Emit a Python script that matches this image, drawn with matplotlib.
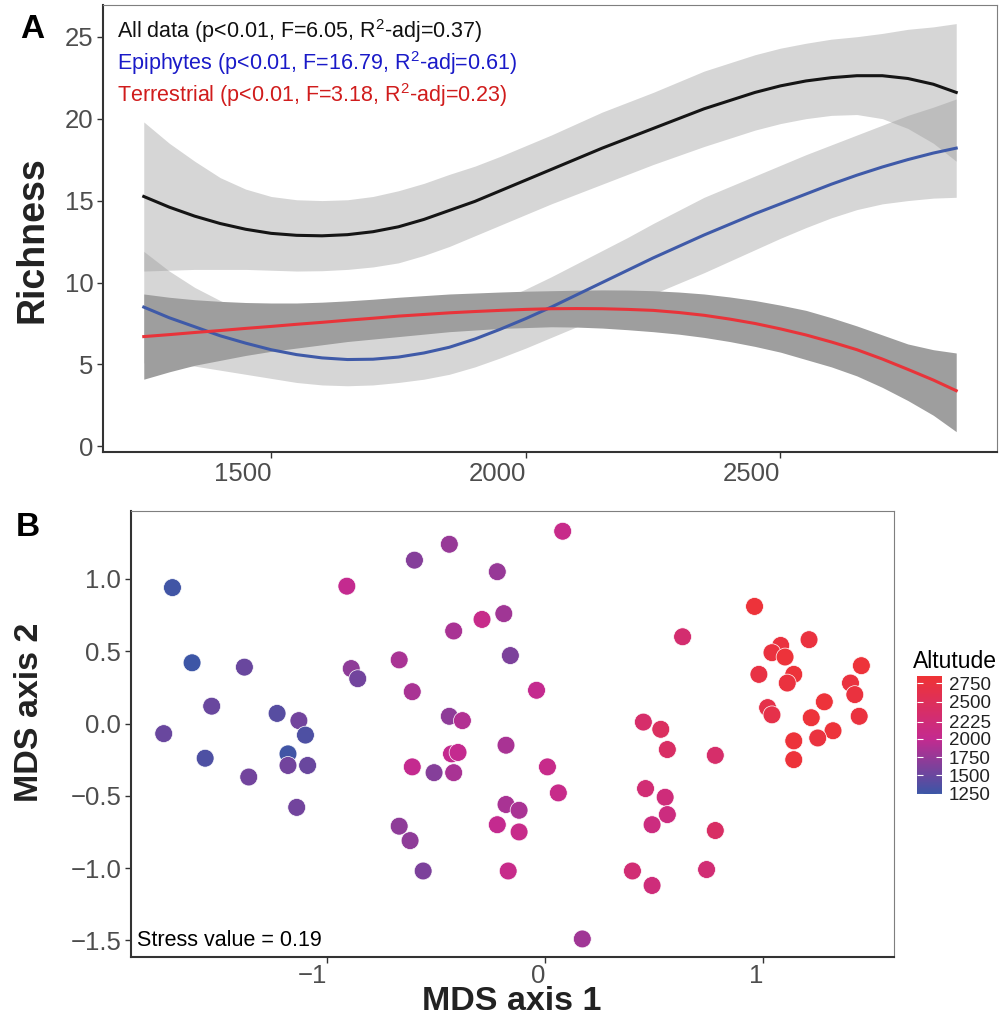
import numpy as np
import matplotlib
matplotlib.use("Agg")
import matplotlib.pyplot as plt
from matplotlib.colors import LinearSegmentedColormap, Normalize

plt.rcParams['font.family'] = ['Liberation Sans', 'DejaVu Sans']
plt.rcParams['mathtext.fontset'] = 'custom'
plt.rcParams['mathtext.rm'] = 'Liberation Sans'

# ---- Panel A: smoothed richness vs altitude
alt_grid = [1250, 1300, 1350, 1400, 1450, 1500, 1550, 1600, 1650, 1700,
            1750, 1800, 1850, 1900, 1950, 2000, 2050, 2100, 2150, 2200,
            2250, 2300, 2350, 2400, 2450, 2500, 2550, 2600, 2650, 2700,
            2750, 2800, 2845]

all_fit = [15.25, 14.6, 14.05, 13.6, 13.25, 13.0, 12.88, 12.85, 12.92, 13.1,
           13.4, 13.85, 14.4, 14.95, 15.6, 16.25, 16.9, 17.55, 18.2, 18.8,
           19.4, 20.0, 20.6, 21.1, 21.6, 22.0, 22.3, 22.5, 22.62, 22.62,
           22.45, 22.1, 21.6]
all_lo = [10.7, 10.75, 10.8, 10.8, 10.8, 10.75, 10.7, 10.72, 10.8, 10.95,
          11.2, 11.65, 12.2, 12.85, 13.5, 14.15, 14.8, 15.4, 16.0, 16.6,
          17.2, 17.75, 18.3, 18.8, 19.3, 19.7, 20.0, 20.2, 20.25, 20.0,
          19.4, 18.5, 17.4]
all_hi = [19.8, 18.5, 17.4, 16.4, 15.7, 15.25, 15.05, 15.0, 15.05, 15.25,
          15.6, 16.05, 16.6, 17.1, 17.7, 18.35, 19.0, 19.7, 20.4, 21.0,
          21.6, 22.25, 22.9, 23.4, 23.9, 24.3, 24.6, 24.85, 25.0, 25.2,
          25.45, 25.6, 25.8]

epi_fit = [8.5, 7.85, 7.3, 6.75, 6.3, 5.9, 5.6, 5.4, 5.3, 5.32,
           5.45, 5.7, 6.05, 6.55, 7.15, 7.8, 8.5, 9.25, 10.0, 10.75,
           11.5, 12.2, 12.9, 13.55, 14.2, 14.8, 15.4, 16.0, 16.55, 17.05,
           17.5, 17.9, 18.2]
epi_lo = [5.1, 5.05, 4.9, 4.65, 4.4, 4.15, 3.9, 3.75, 3.7, 3.75,
          3.9, 4.1, 4.4, 4.85, 5.4, 6.0, 6.65, 7.3, 8.0, 8.65,
          9.3, 9.95, 10.6, 11.3, 12.0, 12.7, 13.35, 13.95, 14.45, 14.8,
          15.0, 15.15, 15.2]
epi_hi = [11.9, 10.7, 9.7, 8.9, 8.2, 7.7, 7.3, 7.05, 6.9, 6.9,
          7.0, 7.3, 7.7, 8.25, 8.9, 9.6, 10.35, 11.15, 11.95, 12.75,
          13.6, 14.4, 15.2, 15.85, 16.5, 17.15, 17.8, 18.4, 19.0, 19.6,
          20.2, 20.7, 21.2]

ter_fit = [6.7, 6.82, 6.95, 7.07, 7.2, 7.32, 7.45, 7.57, 7.7, 7.82,
           7.95, 8.05, 8.15, 8.23, 8.3, 8.36, 8.4, 8.41, 8.4, 8.36,
           8.3, 8.17, 8.0, 7.77, 7.5, 7.17, 6.8, 6.37, 5.9, 5.33,
           4.7, 4.05, 3.4]
ter_lo = [4.1, 4.55, 4.95, 5.25, 5.55, 5.8, 6.0, 6.2, 6.4, 6.55,
          6.7, 6.85, 7.0, 7.1, 7.2, 7.25, 7.3, 7.28, 7.22, 7.12,
          7.0, 6.85, 6.65, 6.4, 6.1, 5.75, 5.3, 4.85, 4.3, 3.6,
          2.8, 1.9, 0.9]
ter_hi = [9.3, 9.1, 8.95, 8.85, 8.78, 8.75, 8.75, 8.8, 8.88, 8.98,
          9.1, 9.2, 9.3, 9.36, 9.42, 9.47, 9.5, 9.53, 9.55, 9.54,
          9.5, 9.42, 9.3, 9.12, 8.9, 8.62, 8.3, 7.85, 7.35, 6.8,
          6.25, 5.9, 5.7]

labels_a = ["All data (p<0.01, F=6.05, R$^{2}$-adj=0.37)",
            "Epiphytes (p<0.01, F=16.79, R$^{2}$-adj=0.61)",
            "Terrestrial (p<0.01, F=3.18, R$^{2}$-adj=0.23)"]
label_colors = ['#111111', '#1A1AC8', '#D01C1C']

# ---- Panel B: NMDS scores
mds1 = [-1.71, -1.62, -1.38, -1.53, -1.75, -1.56, -1.36, -1.23, -1.13, -1.10,
        -1.18, -1.18, -1.09, -1.14, -0.91, -0.89, -0.86, -0.60, -0.44, -0.22,
        -0.29, -0.19, -0.42, -0.16, -0.67, -0.61, -0.04, -0.44, -0.38, -0.18,
        -0.43, -0.40, -0.61, -0.51, -0.42, 0.01, 0.06, -0.67, -0.62, -0.56,
        -0.18, -0.12, -0.22, -0.12, -0.17, 0.17, 0.08, 0.45, 0.53, 0.56,
        0.46, 0.55, 0.56, 0.49, 0.40, 0.49, 0.63, 0.78, 0.78, 0.74,
        0.96, 1.08, 1.04, 1.10, 1.21, 1.45, 0.98, 1.14, 1.11, 1.40,
        1.42, 1.28, 1.02, 1.04, 1.22, 1.44, 1.32, 1.25, 1.14, 1.14]
mds2 = [0.94, 0.42, 0.39, 0.12, -0.07, -0.24, -0.37, 0.07, 0.02, -0.08,
        -0.21, -0.29, -0.29, -0.58, 0.95, 0.38, 0.31, 1.13, 1.24, 1.05,
        0.72, 0.76, 0.64, 0.47, 0.44, 0.22, 0.23, 0.05, 0.02, -0.15,
        -0.21, -0.20, -0.30, -0.34, -0.34, -0.30, -0.48, -0.71, -0.81, -1.02,
        -0.56, -0.60, -0.70, -0.75, -1.02, -1.49, 1.33, 0.01, -0.04, -0.18,
        -0.45, -0.51, -0.63, -0.70, -1.02, -1.12, 0.60, -0.22, -0.74, -1.01,
        0.81, 0.54, 0.49, 0.46, 0.58, 0.40, 0.34, 0.34, 0.28, 0.28,
        0.20, 0.15, 0.11, 0.06, 0.04, 0.05, -0.05, -0.10, -0.12, -0.25]
altitude = [1280, 1260, 1500, 1500, 1500, 1350, 1550, 1400, 1550, 1350,
            1280, 1550, 1500, 1550, 2000, 1700, 1550, 1650, 1750, 1750,
            2050, 1800, 1850, 1600, 1850, 1850, 2000, 1700, 1900, 1850,
            2000, 2000, 2000, 1650, 1850, 2050, 2050, 1700, 1700, 1600,
            1850, 1850, 2000, 2050, 2050, 1800, 2050, 2350, 2450, 2400,
            2250, 2200, 2150, 2150, 2250, 2200, 2300, 2350, 2400, 2250,
            2800, 2750, 2750, 2800, 2750, 2800, 2700, 2800, 2750, 2750,
            2750, 2800, 2650, 2650, 2800, 2750, 2800, 2750, 2800, 2800]
cbar_ticks = [1250, 1500, 1750, 2000, 2225, 2500, 2750]

grey_txt = '#4D4D4D'
dark = '#333333'

fig = plt.figure(figsize=(10.04, 10.23), dpi=100)


def style_axes(ax, xpad=3):
    for s in ['left', 'bottom']:
        ax.spines[s].set_color(dark)
        ax.spines[s].set_linewidth(1.5)
    for s in ['top', 'right']:
        ax.spines[s].set_color('#7F7F7F')
        ax.spines[s].set_linewidth(0.8)
    ax.tick_params(length=4, width=1, color=dark, labelcolor=grey_txt,
                   labelsize=18.5, pad=3)
    ax.tick_params(axis='x', pad=xpad)
    plt.setp(ax.get_xticklabels(), ha='right')


# Panel A
ax1 = fig.add_axes([0.1026, 0.5582, 0.8904, 0.4370])
ax1.fill_between(alt_grid, all_lo, all_hi, color='#999999', alpha=0.4, lw=0)
ax1.plot(alt_grid, all_fit, color='#151515', lw=2.2)
ax1.fill_between(alt_grid, epi_lo, epi_hi, color='#999999', alpha=0.4, lw=0)
ax1.plot(alt_grid, epi_fit, color='#3F5AA8', lw=2.2)
ax1.fill_between(alt_grid, ter_lo, ter_hi, color='#9E9E9E', lw=0)
ax1.plot(alt_grid, ter_fit, color='#E8343A', lw=2.2)
ax1.set_xlim(1170, 2925)
ax1.set_ylim(-0.34, 26.94)
ax1.set_xticks([1500, 2000, 2500])
ax1.set_yticks([0, 5, 10, 15, 20, 25])
style_axes(ax1)

for i, (lab, col) in enumerate(zip(labels_a, label_colors)):
    fig.text(117 / 1004, 1 - (31 + 32 * i) / 1023, lab, color=col,
             fontsize=15.5, va='center', ha='left')

fig.text(33 / 1004, 1 - 240 / 1023, 'Richness', rotation=90, fontsize=27,
         fontweight='bold', color='#222222', ha='center', va='center')
fig.text(0.032, 0.9707, 'A', fontsize=24, fontweight='bold', ha='center',
         va='center')

# Panel B
cmap = LinearSegmentedColormap.from_list(
    'alt', [(0.0, '#3C56A6'), (0.47, '#C42A8F'), (1.0, '#EF3335')])
norm = Normalize(vmin=1249, vmax=2849)

ax2 = fig.add_axes([0.1305, 0.0645, 0.760, 0.4360])
sc = ax2.scatter(mds1, mds2, c=altitude, cmap=cmap, norm=norm, s=165,
                 edgecolors='white', linewidths=0.5, zorder=3)
ax2.set_xlim(-1.90, 1.60)
ax2.set_ylim(-1.615, 1.47)
ax2.set_xticks([-1, 0, 1])
ax2.set_xticklabels(['\u22121', '0', '1'])
ax2.set_yticks([-1.5, -1.0, -0.5, 0.0, 0.5, 1.0])
ax2.set_yticklabels(['\u22121.5', '\u22121.0', '\u22120.5', '0.0', '0.5', '1.0'])
style_axes(ax2, xpad=1)
ax2.text(0.008, 0.038, 'Stress value = 0.19', transform=ax2.transAxes,
         fontsize=15.5, va='center', ha='left')

fig.text(512 / 1004, 1 - 1002 / 1023, 'MDS axis 1', fontsize=24.5,
         fontweight='bold', color='#222222', ha='center', va='center')
fig.text(30 / 1004, 1 - 712 / 1023, 'MDS axis 2', rotation=90, fontsize=24.5,
         fontweight='bold', color='#222222', ha='center', va='center')
fig.text(0.028, 1 - 528 / 1023, 'B', fontsize=24, fontweight='bold',
         ha='center', va='center')

cax = fig.add_axes([0.9133, 0.2239, 0.0249, 0.1153])
cb = fig.colorbar(sc, cax=cax, ticks=cbar_ticks)
cb.outline.set_visible(False)
cax.yaxis.set_ticks_position('both')
cax.tick_params(which='both', direction='in', color='white', length=4,
                width=0.8, labelsize=13.5, labelcolor='#222222', pad=5,
                labelleft=False, labelright=True)
fig.text(913 / 1004, 1 - 661 / 1023, 'Altutude', fontsize=16.5,
         ha='left', va='center')

fig.savefig('out.png', dpi=100)
